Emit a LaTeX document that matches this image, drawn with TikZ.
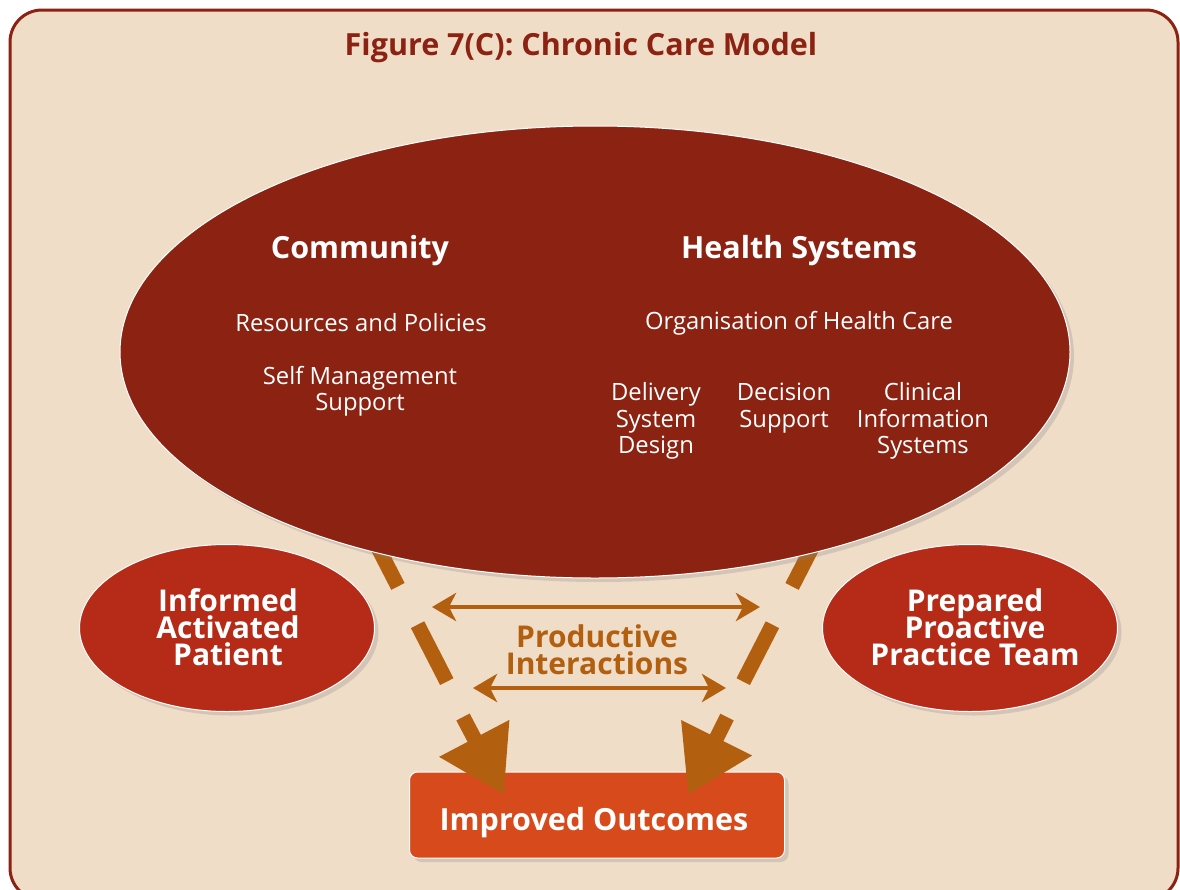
\documentclass[tikz,border=0pt]{standalone}
\usepackage{fontspec}
\setmainfont{Open Sans}
\usetikzlibrary{shapes.geometric,shadows,arrows.meta}
\definecolor{bgc}{RGB}{240,221,200}
\definecolor{darkred}{RGB}{139,34,18}
\definecolor{midred}{RGB}{181,43,23}
\definecolor{boxorange}{RGB}{215,74,28}
\definecolor{arrowc}{RGB}{179,95,16}
\newcommand\mytightls{\lineskiplimit-100pt\relax}
\tikzset{
  shade/.style={drop shadow={opacity=0.25,shadow xshift=4pt,shadow yshift=-4pt}},
  bigell/.style={ellipse,draw=white,line width=1pt,fill=darkred,inner sep=0pt,shade},
  smallell/.style={ellipse,draw=white,line width=1pt,fill=midred,inner sep=0pt,shade},
  outbox/.style={rectangle,rounded corners=8pt,draw=white,line width=1pt,fill=boxorange,shade,inner sep=0pt},
  head/.style={text=white,font=\fontsize{30.5}{32}\selectfont\bfseries},
  sub/.style={text=white,font=\fontsize{23.8}{26.5}\selectfont\mytightls,align=center},
  bigtxt/.style={text=white,font=\fontsize{30}{27}\selectfont\bfseries\mytightls,align=center},
  dashline/.style={draw=arrowc,line width=15pt,dash pattern=on 64pt off 43pt},
  bigarrow/.style={draw=arrowc,line width=15pt,-{Triangle[width=75pt,length=64pt]}},
  dblarrow/.style={draw=arrowc,line width=4.5pt,{Stealth[width=28pt,length=24pt,inset=7pt]}-{Stealth[width=28pt,length=24pt,inset=7pt]}},
}
\begin{document}
\begin{tikzpicture}[x=1pt,y=-1pt]
\useasboundingbox (0,0) rectangle (1180,889);
\draw[draw=darkred,line width=3pt,fill=bgc,rounded corners=32pt] (10,10) rectangle (1178,900);
\node[text=darkred,font=\fontsize{30.5}{32}\selectfont\bfseries] (title) at (581,48) {Figure 7(C): Chronic Care Model};
% dashed connectors (start hidden behind big ellipse)
\coordinate (ls) at (368.7,529.5);
\coordinate (lm) at (447,682);
\coordinate (la) at (463,717);
\coordinate (lt) at (504,795);
\coordinate (rs) at (821.3,529.5);
\coordinate (rm) at (743,682);
\coordinate (ra) at (727,717);
\coordinate (rt) at (688,795);
\coordinate (a1l) at (432,607);
\coordinate (a1r) at (760,607);
\coordinate (a2l) at (473,688);
\coordinate (a2r) at (726,688);
\draw[dashline] (ls) -- (lm);
\draw[dashline] (rs) -- (rm);
% big ellipse
\node[bigell,minimum width=950pt,minimum height=452pt] (sys) at (595,352) {};
\node[head] (comm) at (360,251) {Community};
\node[head] (hs) at (799,251) {Health Systems};
\node[sub] (rp) at (361,323) {Resources and Policies};
\node[sub] (sms) at (360,391) {Self Management\\Support};
\node[sub] (org) at (799,323) {Organisation of Health Care};
\node[sub] (dsd) at (656,421) {Delivery\\System\\Design};
\node[sub] (ds) at (784,408) {Decision\\Support};
\node[sub] (cis) at (923,421) {Clinical\\Information\\Systems};
% small ellipses
\node[smallell,minimum width=295pt,minimum height=167pt] (pat) at (227,628) {};
\node[bigtxt] (patt) at (228,627) {Informed\\Activated\\Patient};
\node[smallell,minimum width=295pt,minimum height=167pt] (team) at (970,628) {};
\node[bigtxt] (teamt) at (975,627) {Prepared\\Proactive\\Practice Team};
% outcomes
\node[outbox,minimum width=375pt,minimum height=86pt] (out) at (597,815) {};
\node[head] (outt) at (594,823) {Improved Outcomes};
% productive interactions
\node[text=arrowc,font=\fontsize{30}{27}\selectfont\bfseries\mytightls,align=center] (pi) at (597,650) {Productive\\Interactions};
\draw[dblarrow] (a1l) -- (a1r);
\draw[dblarrow] (a2l) -- (a2r);
% final arrows
\draw[bigarrow] (la) -- (lt);
\draw[bigarrow] (ra) -- (rt);
\end{tikzpicture}
\end{document}
